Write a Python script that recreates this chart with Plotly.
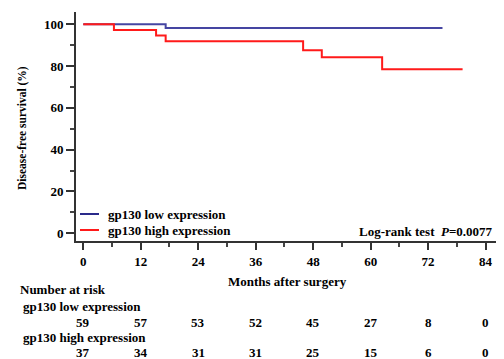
import plotly.graph_objects as go

# Data
low_t = [0, 17.2, 75]
low_s = [100, 98.3, 98.3]
high_t = [0, 6.4, 15.2, 17.2, 45.9, 49.8, 62.4, 79.2]
high_s = [100, 97.3, 94.6, 91.9, 87.6, 84.2, 78.5, 78.5]

risk_times = [0, 12, 24, 36, 48, 60, 72, 84]
risk_low = [59, 57, 53, 52, 45, 27, 8, 0]
risk_high = [37, 34, 31, 31, 25, 15, 6, 0]
x_ticks = [0, 12, 24, 36, 48, 60, 72, 84]
y_ticks = [0, 20, 40, 60, 80, 100]
x_minor = [6, 18, 30, 42, 54, 66, 78]
y_minor = [10, 30, 50, 70, 90]

BLUE = "#4545a2"
RED = "#ff1a1a"

# page body has an 8px margin: lay out in window pixels, offset by 8
OFF = 8
W, H = 504 - OFF, 359 - OFF
L, R, T, B = 76 - OFF, 5, 12 - OFF, 359 - 241
plot_h = H - T - B
plot_w = W - L - R
FONT = "Liberation Serif"
fs = 13

def py(p):
    return (359 - B - p) / plot_h

def px(p):
    return (p - 76) / plot_w

fig = go.Figure()
fig.add_trace(go.Scatter(x=low_t, y=low_s, mode="lines", line=dict(color=BLUE, width=2, shape="hv"),
                         name="gp130 low expression", showlegend=False))
fig.add_trace(go.Scatter(x=high_t, y=high_s, mode="lines", line=dict(color=RED, width=2, shape="hv"),
                         name="gp130 high expression", showlegend=False))

ann = []
shapes = []
# legend (drawn manually)
for yy, col, txt in [(214, "#2a2a8a", "gp130 low expression"), (230, RED, "gp130 high expression")]:
    shapes.append(dict(type="line", xref="paper", yref="paper", x0=px(80), x1=px(99), y0=py(yy), y1=py(yy),
                       line=dict(color=col, width=2)))
    ann.append(dict(xref="paper", yref="paper", x=px(106), y=py(yy), xanchor="left", yanchor="middle",
                    text=f"<b>{txt}</b>", showarrow=False, font=dict(size=fs)))

ann.append(dict(xref="paper", yref="paper", x=px(495), y=py(231), xanchor="right", yanchor="middle",
                text="<b>Log-rank test  <i>P</i>=0.0077</b>", showarrow=False, font=dict(size=fs)))
ann.append(dict(xref="paper", yref="paper", x=0.5, y=py(281), xanchor="center", yanchor="middle",
                text="<b>Months after surgery</b>", showarrow=False, font=dict(size=fs)))
ann.append(dict(xref="paper", yref="paper", x=px(22), y=py(128), xanchor="center", yanchor="middle",
                text="<b>Disease-free survival (%)</b>", textangle=-90, showarrow=False, font=dict(size=11.5)))
ann.append(dict(xref="paper", yref="paper", x=px(18), y=py(289), xanchor="left", yanchor="middle",
                text="<b>Number at risk</b>", showarrow=False, font=dict(size=fs)))
ann.append(dict(xref="paper", yref="paper", x=px(21), y=py(306), xanchor="left", yanchor="middle",
                text="<b>gp130 low expression</b>", showarrow=False, font=dict(size=fs)))
ann.append(dict(xref="paper", yref="paper", x=px(21), y=py(337), xanchor="left", yanchor="middle",
                text="<b>gp130 high expression</b>", showarrow=False, font=dict(size=fs)))
for t, v in zip(risk_times, risk_low):
    ann.append(dict(xref="x", yref="paper", x=t, y=py(322), xanchor="center", yanchor="middle",
                    text=f"<b>{v}</b>", showarrow=False, font=dict(size=fs)))
for t, v in zip(risk_times, risk_high):
    ann.append(dict(xref="x", yref="paper", x=t, y=py(352), xanchor="center", yanchor="middle",
                    text=f"<b>{v}</b>", showarrow=False, font=dict(size=fs)))

fig.update_layout(
    width=W, height=H,
    margin=dict(l=L, r=R, t=T, b=B, autoexpand=False),
    paper_bgcolor="white", plot_bgcolor="white",
    font=dict(family=FONT, size=fs, color="black"),
    showlegend=False,
    annotations=ann,
    shapes=shapes,
    xaxis=dict(range=[-1.52, 86.8], tickvals=x_ticks, ticktext=[f"<b>{v}</b>" for v in x_ticks],
               showgrid=False, zeroline=False, showline=True, linecolor="#333", linewidth=2,
               ticks="outside", ticklen=7, tickwidth=2, tickcolor="#333",
               minor=dict(tickmode="array", tickvals=x_minor, ticks="outside", ticklen=4, tickwidth=1.5,
                          tickcolor="#444", showgrid=False),
               fixedrange=True),
    yaxis=dict(range=[-3.7, 105.9], tickvals=y_ticks, ticktext=[f"<b>{v}</b>" for v in y_ticks],
               showgrid=False, zeroline=False, showline=True, linecolor="#333", linewidth=2,
               ticks="outside", ticklen=8, tickwidth=2, tickcolor="#333",
               minor=dict(tickmode="array", tickvals=y_minor, ticks="outside", ticklen=4, tickwidth=1.5,
                          tickcolor="#444", showgrid=False),
               fixedrange=True),
)

fig.write_html("out.html", config=dict(displayModeBar=False))
